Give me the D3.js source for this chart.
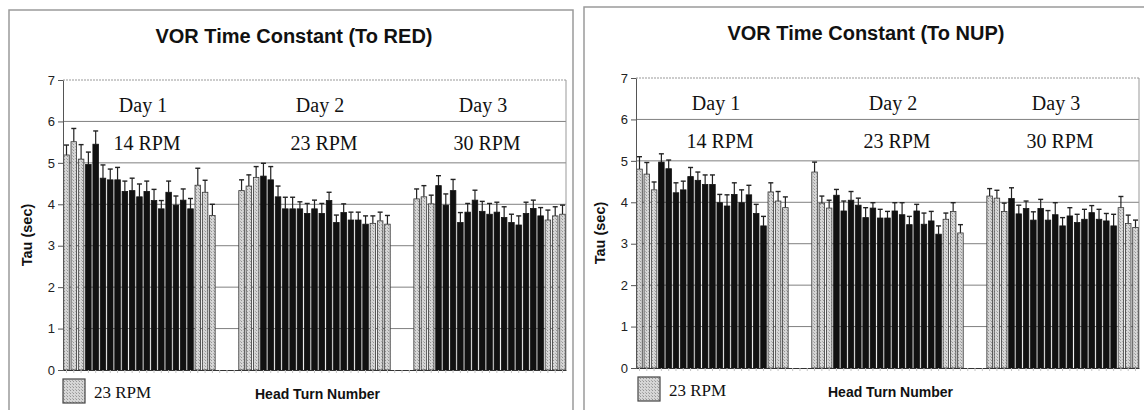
<!DOCTYPE html>
<html>
<head>
<meta charset="utf-8">
<script src="https://cdn.jsdelivr.net/npm/d3@7"></script>
<style>
  body { margin: 0; background: #fff; }
</style>
</head>
<body>
<div id="chart"></div>
<script>
// VOR time constant, 21 head turns per day (mean tau in sec, and +SE)
const redDay1 = [5.19, 5.51, 5.09, 4.96, 5.45, 4.63, 4.59, 4.59, 4.31, 4.33, 4.18, 4.31, 4.09, 3.89, 4.29, 3.98, 4.10, 3.89, 4.46, 4.29, 3.73];
const redDay2 = [4.33, 4.44, 4.65, 4.68, 4.59, 4.18, 3.89, 3.89, 3.89, 3.78, 3.89, 3.78, 4.09, 3.56, 3.80, 3.62, 3.62, 3.52, 3.54, 3.60, 3.52];
const redDay3 = [4.13, 4.18, 4.01, 4.45, 3.98, 4.33, 3.56, 3.81, 4.10, 3.83, 3.76, 3.81, 3.68, 3.56, 3.50, 3.78, 3.90, 3.72, 3.62, 3.72, 3.76];
const redErr1 = [0.24, 0.32, 0.35, 0.30, 0.32, 0.32, 0.26, 0.30, 0.25, 0.30, 0.31, 0.25, 0.27, 0.20, 0.27, 0.22, 0.27, 0.25, 0.41, 0.29, 0.27];
const redErr2 = [0.26, 0.27, 0.26, 0.31, 0.32, 0.26, 0.28, 0.28, 0.17, 0.24, 0.21, 0.24, 0.20, 0.18, 0.21, 0.19, 0.19, 0.20, 0.18, 0.21, 0.21];
const redErr3 = [0.24, 0.27, 0.21, 0.24, 0.27, 0.27, 0.24, 0.21, 0.24, 0.24, 0.26, 0.24, 0.26, 0.20, 0.22, 0.27, 0.20, 0.20, 0.24, 0.22, 0.22];

const nupDay1 = [4.80, 4.68, 4.30, 4.97, 4.81, 4.23, 4.30, 4.62, 4.53, 4.43, 4.43, 3.99, 3.91, 4.19, 3.99, 4.18, 3.73, 3.43, 4.25, 4.03, 3.87];
const nupDay2 = [4.73, 3.98, 3.86, 4.17, 3.79, 4.05, 3.93, 3.63, 3.86, 3.62, 3.62, 3.79, 3.70, 3.46, 3.79, 3.47, 3.55, 3.23, 3.59, 3.78, 3.26];
const nupDay3 = [4.15, 4.10, 3.78, 4.09, 3.72, 3.85, 3.57, 3.85, 3.57, 3.70, 3.43, 3.67, 3.51, 3.59, 3.75, 3.59, 3.55, 3.43, 3.87, 3.49, 3.39];
const nupErr1 = [0.30, 0.28, 0.19, 0.20, 0.21, 0.24, 0.21, 0.22, 0.20, 0.23, 0.23, 0.20, 0.27, 0.28, 0.31, 0.23, 0.22, 0.23, 0.22, 0.23, 0.26];
const nupErr2 = [0.24, 0.17, 0.19, 0.14, 0.24, 0.21, 0.17, 0.24, 0.13, 0.21, 0.16, 0.20, 0.29, 0.20, 0.16, 0.27, 0.23, 0.20, 0.15, 0.21, 0.20];
const nupErr3 = [0.18, 0.19, 0.20, 0.26, 0.21, 0.18, 0.20, 0.22, 0.23, 0.29, 0.20, 0.20, 0.20, 0.24, 0.17, 0.24, 0.18, 0.28, 0.27, 0.20, 0.18];

// first and last three turns of each day were at 23 RPM (light bars)
const turnKind = ["23", "23", "23", "day", "day", "day", "day", "day", "day", "day", "day", "day", "day", "day", "day", "day", "day", "day", "23", "23", "23"];

const dayLabels = ["Day 1", "Day 2", "Day 3"];
const rpmLabels = ["14 RPM", "23 RPM", "30 RPM"];
const yTicks = [0, 1, 2, 3, 4, 5, 6, 7];

const width = 1144, height = 410;

const svg = d3.select("#chart")
  .append("svg")
  .attr("width", width)
  .attr("height", height)
  .attr("viewBox", [0, 0, width, height]);

// stippled gray used by the 23 RPM bars and the legend box
const defs = svg.append("defs");
const pat = defs.append("pattern")
  .attr("id", "stipple")
  .attr("patternUnits", "userSpaceOnUse")
  .attr("width", 3).attr("height", 3);
pat.append("rect").attr("width", 3).attr("height", 3).attr("fill", "#d6d6d6");
pat.append("rect").attr("x", 1).attr("y", 0).attr("width", 1).attr("height", 1).attr("fill", "#959595");
pat.append("rect").attr("x", 0).attr("y", 2).attr("width", 1).attr("height", 1).attr("fill", "#ababab");

// category slots: 21 turns per day, 3 empty slots between days
const slots = [];
for (let d = 0; d < 3; d++) {
  for (let t = 0; t < 21; t++) slots.push(`d${d}-t${t}`);
  if (d < 2) for (let g = 0; g < 3; g++) slots.push(`gap${d}-${g}`);
}

const panels = [
  { title: "VOR Time Constant (To RED)", means: [redDay1, redDay2, redDay3], errs: [redErr1, redErr2, redErr3],
    frameX: 9, frameY: 10, frameW: 564, titleX: 294, titleY: 43,
    left: 63, right: 566, bottom: 370, top: 80, dayY: 112, rpmY: 150, legX: 63, legY: 379 },
  { title: "VOR Time Constant (To NUP)", means: [nupDay1, nupDay2, nupDay3], errs: [nupErr1, nupErr2, nupErr3],
    frameX: 584, frameY: 7, frameW: 580, titleX: 866, titleY: 40,
    left: 636, right: 1139, bottom: 368, top: 78, dayY: 110, rpmY: 148, legX: 638, legY: 377 }
];

const dayOffsets = [80, 257, 420];
const rpmOffsets = [84, 261, 424];

panels.forEach((p) => {
  const g = svg.append("g");

  // panel frame
  g.append("rect")
    .attr("x", p.frameX).attr("y", p.frameY)
    .attr("width", p.frameW).attr("height", height)
    .attr("fill", "none")
    .attr("stroke", "#9a9a9a")
    .attr("stroke-width", 1.5);

  g.append("text")
    .attr("x", p.titleX).attr("y", p.titleY)
    .attr("text-anchor", "middle")
    .attr("font-family", "Liberation Sans, Arial, sans-serif")
    .attr("font-weight", "bold")
    .attr("font-size", "20px")
    .attr("fill", "#111")
    .text(p.title);

  const xScale = d3.scaleBand()
    .domain(slots)
    .range([p.left, p.right])
    .paddingInner(0.24)
    .paddingOuter(0.1);

  const yScale = d3.scaleLinear()
    .domain([0, 7])
    .range([p.bottom, p.top]);

  // gridlines
  g.selectAll(".grid")
    .data(yTicks.filter((v) => v > 0 && v < 7))
    .enter()
    .append("line")
    .attr("x1", p.left).attr("x2", p.right)
    .attr("y1", (d) => yScale(d)).attr("y2", (d) => yScale(d))
    .attr("stroke", "#808080")
    .attr("stroke-width", 1);

  g.append("line")
    .attr("x1", p.left).attr("x2", p.right)
    .attr("y1", yScale(7)).attr("y2", yScale(7))
    .attr("stroke", "#999")
    .attr("stroke-dasharray", "2,1");

  g.append("line")
    .attr("x1", p.right).attr("x2", p.right)
    .attr("y1", yScale(7)).attr("y2", yScale(0))
    .attr("stroke", "#999");

  // day / speed labels inside the plot
  dayLabels.forEach((lab, i) => {
    g.append("text")
      .attr("x", p.left + dayOffsets[i]).attr("y", p.dayY)
      .attr("text-anchor", "middle")
      .attr("font-family", "Liberation Serif, Times New Roman, serif")
      .attr("font-size", "20px")
      .attr("fill", "#111")
      .text(lab);
    g.append("text")
      .attr("x", p.left + rpmOffsets[i]).attr("y", p.rpmY)
      .attr("text-anchor", "middle")
      .attr("font-family", "Liberation Serif, Times New Roman, serif")
      .attr("font-size", "20px")
      .attr("fill", "#111")
      .text(rpmLabels[i]);
  });

  // flatten the three days into bar records
  const rows = [];
  p.means.forEach((arr, d) => {
    arr.forEach((v, t) => {
      rows.push({ key: `d${d}-t${t}`, value: v, err: p.errs[d][t], kind: turnKind[t] });
    });
  });

  // error bars (drawn first so the bar tops cover the stem start)
  const eb = g.selectAll(".err")
    .data(rows)
    .enter()
    .append("g");

  eb.append("line")
    .attr("x1", (d) => xScale(d.key) + xScale.bandwidth() / 2)
    .attr("x2", (d) => xScale(d.key) + xScale.bandwidth() / 2)
    .attr("y1", (d) => yScale(d.value))
    .attr("y2", (d) => yScale(d.value + d.err))
    .attr("stroke", "#222")
    .attr("stroke-width", 1.2);

  eb.append("line")
    .attr("x1", (d) => xScale(d.key) + xScale.bandwidth() / 2 - 2.5)
    .attr("x2", (d) => xScale(d.key) + xScale.bandwidth() / 2 + 2.5)
    .attr("y1", (d) => yScale(d.value + d.err))
    .attr("y2", (d) => yScale(d.value + d.err))
    .attr("stroke", "#222")
    .attr("stroke-width", 1.4);

  g.selectAll(".bar")
    .data(rows)
    .enter()
    .append("rect")
    .attr("x", (d) => xScale(d.key))
    .attr("y", (d) => yScale(d.value))
    .attr("width", xScale.bandwidth())
    .attr("height", (d) => yScale(0) - yScale(d.value))
    .attr("fill", (d) => d.kind === "23" ? "url(#stipple)" : "#111")
    .attr("stroke", (d) => d.kind === "23" ? "#333" : "#111")
    .attr("stroke-width", 0.8);

  // y axis
  const yAxis = g.append("g")
    .attr("transform", `translate(${p.left},0)`)
    .call(d3.axisLeft(yScale).tickValues(yTicks).tickSize(5).tickSizeOuter(0).tickFormat(d3.format("d")));
  yAxis.select(".domain").attr("stroke", "#555");
  yAxis.selectAll(".tick line").attr("stroke", "#555");
  yAxis.selectAll("text")
    .attr("font-family", "Liberation Sans, Arial, sans-serif")
    .attr("font-size", "13px")
    .attr("fill", "#222");

  // category axis: dark baseline with faint tick marks
  const xAxis = g.append("g")
    .attr("transform", `translate(0,${p.bottom})`)
    .call(d3.axisBottom(xScale).tickSize(3).tickSizeOuter(0).tickFormat(""));
  xAxis.select(".domain").attr("stroke", "#333");
  xAxis.selectAll(".tick line").attr("stroke", "#c4c4c4");

  g.append("text")
    .attr("transform", `translate(${p.left - 31},${(p.top + p.bottom) / 2 + 10}) rotate(-90)`)
    .attr("text-anchor", "middle")
    .attr("font-family", "Liberation Sans, Arial, sans-serif")
    .attr("font-weight", "bold")
    .attr("font-size", "14.5px")
    .attr("fill", "#111")
    .text("Tau (sec)");

  g.append("text")
    .attr("x", (p.left + p.right) / 2 + 3).attr("y", p.bottom + 29)
    .attr("text-anchor", "middle")
    .attr("font-family", "Liberation Sans, Arial, sans-serif")
    .attr("font-weight", "bold")
    .attr("font-size", "14px")
    .attr("fill", "#111")
    .text("Head Turn Number");

  // legend
  g.append("rect")
    .attr("x", p.legX).attr("y", p.legY)
    .attr("width", 22).attr("height", 24)
    .attr("fill", "url(#stipple)")
    .attr("stroke", "#444")
    .attr("stroke-width", 1.2);

  g.append("text")
    .attr("x", p.legX + 31).attr("y", p.legY + 19)
    .attr("font-family", "Liberation Serif, Times New Roman, serif")
    .attr("font-size", "17px")
    .attr("fill", "#111")
    .text("23 RPM");
});
</script>
</body>
</html>
